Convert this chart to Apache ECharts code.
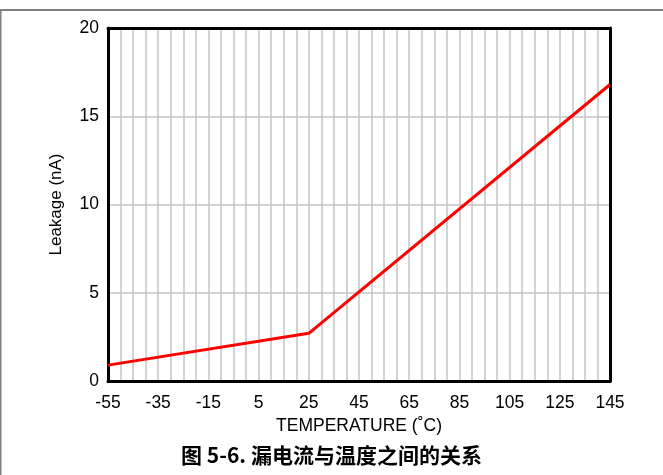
<!DOCTYPE html>
<html>
<head>
<meta charset="utf-8">
<script src="https://cdn.jsdelivr.net/npm/echarts@6/dist/echarts.min.js"></script>
<style>
  html, body { margin: 0; padding: 0; background: #fff; }
  #chart { width: 663px; height: 475px; }
</style>
</head>
<body>
<div id="chart"></div>
<script>
// Leakage current vs. temperature
const temperatures = [-55, 25, 145];        // °C
const leakage = [0.9, 2.7, 16.8];           // nA
const xLabelTicks = [-55, -35, -15, 5, 25, 45, 65, 85, 105, 125, 145];
const yLabelTicks = [0, 5, 10, 15, 20];
const captionText = '图 5-6. 漏电流与温度之间的关系';

const font = '"Liberation Sans", Arial, sans-serif';
const frameLine = { show: true, onZero: false, lineStyle: { color: '#000', width: 3 } };
const chart = echarts.init(document.getElementById('chart'), null, { renderer: 'canvas' });

const xMin = xLabelTicks[0], xMax = xLabelTicks[xLabelTicks.length - 1];
const yMin = yLabelTicks[0], yMax = yLabelTicks[yLabelTicks.length - 1];

chart.setOption({
  animation: false,
  backgroundColor: '#fff',
  grid: { left: 108, right: 53, top: 28, bottom: 94, containLabel: false },
  xAxis: [{
    type: 'value', position: 'bottom',
    min: xMin, max: xMax, interval: 5,
    name: 'TEMPERATURE (˚C)',
    nameLocation: 'middle', nameGap: 35,
    nameTextStyle: { fontFamily: font, fontSize: 17.5, color: '#000' },
    axisLine: frameLine,
    axisTick: { show: false },
    axisLabel: {
      margin: 13, fontFamily: font, fontSize: 17.5, color: '#000',
      formatter: v => xLabelTicks.includes(v) ? String(v) : ''
    },
    splitLine: { show: true, lineStyle: { color: '#c4c4c4', width: 1.5 } },
    z: 3
  }, {
    // top edge of the plot frame
    type: 'value', position: 'top',
    min: xMin, max: xMax,
    axisLine: frameLine, axisTick: { show: false }, axisLabel: { show: false },
    splitLine: { show: false }, z: 3
  }],
  yAxis: [{
    type: 'value', position: 'left',
    min: yMin, max: yMax, interval: 5,
    name: 'Leakage (nA)',
    nameLocation: 'middle', nameGap: 43,
    nameTextStyle: { fontFamily: font, fontSize: 17, color: '#000' },
    axisLine: frameLine,
    axisTick: { show: false },
    axisLabel: { margin: 9, fontFamily: font, fontSize: 17.5, color: '#000' },
    splitLine: { show: true, lineStyle: { color: '#c4c4c4', width: 1.5 } },
    z: 3
  }, {
    // right edge of the plot frame
    type: 'value', position: 'right',
    min: yMin, max: yMax,
    axisLine: frameLine, axisTick: { show: false }, axisLabel: { show: false },
    splitLine: { show: false }, z: 3
  }],
  series: [{
    type: 'line',
    data: temperatures.map((t, i) => [t, leakage[i]]),
    showSymbol: false,
    lineStyle: { color: '#ff0000', width: 3 },
    z: 5
  }],
  graphic: [
    { type: 'rect', shape: { x: 0, y: 9, width: 663, height: 2 }, style: { fill: '#808080' }, silent: true },
    { type: 'rect', shape: { x: 0, y: 10, width: 1.5, height: 465 }, style: { fill: '#808080' }, silent: true },
    {
      type: 'text', left: 'center', top: 445,
      style: {
        text: captionText, fill: '#000',
        font: 'bold 21px "Noto Sans CJK SC", "Liberation Sans", sans-serif'
      }
    }
  ]
});
</script>
</body>
</html>
